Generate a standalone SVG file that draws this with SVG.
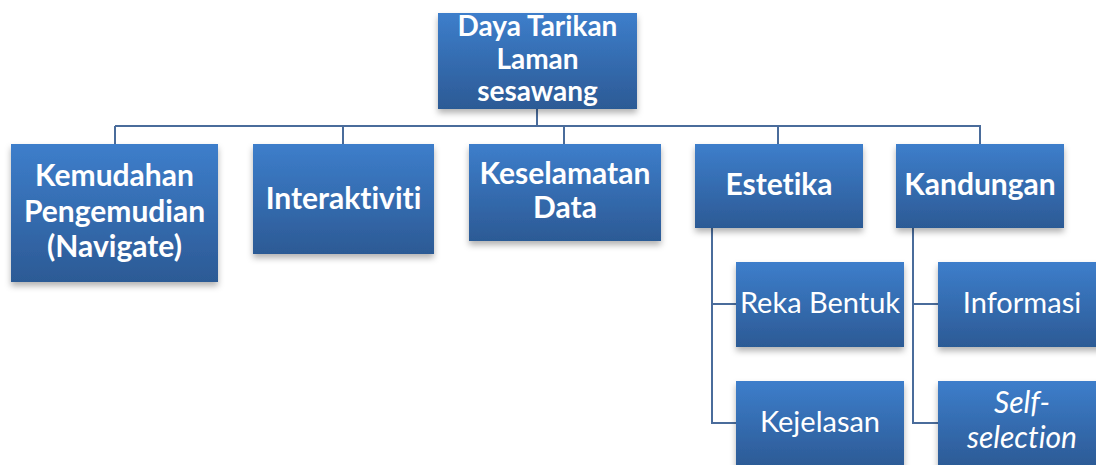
<svg xmlns="http://www.w3.org/2000/svg" width="1096" height="465" viewBox="0 0 1096 465">
<defs>
<linearGradient id="g" x1="0" y1="0" x2="0" y2="1">
<stop offset="0" stop-color="#3d7ecb"/>
<stop offset="1" stop-color="#2c5a95"/>
</linearGradient>
<filter id="sh" x="-10%" y="-10%" width="120%" height="130%">
<feDropShadow dx="0" dy="4" stdDeviation="3" flood-color="#000" flood-opacity="0.3"/>
</filter>
</defs>
<style>
rect.box{fill:url(#g);filter:url(#sh)}
text{font-family:Lato,"Open Sans","Liberation Sans",sans-serif;fill:#fff;text-anchor:middle;font-variant-ligatures:none}
.b{font-weight:bold;font-size:30px}
.t{font-weight:bold;font-size:28px}
.r{font-size:29px}
.i{font-size:30px;font-style:italic}
#connectors path{fill:none;stroke:#4a6c9b;stroke-width:2}
</style>
<rect width="1096" height="465" fill="#fff"/>
<g id="connectors">
<path d="M537,109V126" stroke-width="3"/>
<path d="M115,126H981"/>
<path d="M115,126V144M343,126V144M564,126V144M778,126V144M980,126V144"/>
<path d="M712,228V423H736M712,304H736"/>
<path d="M913,228V423H938M913,304H938"/>
</g>
<g id="n-root"><rect class="box" x="438" y="13" width="199" height="96"/>
<text class="t" x="537.5" y="36">Daya Tarikan</text><text class="t" x="537.5" y="69">Laman</text><text class="t" x="537.5" y="101">sesawang</text></g>
<g id="n-kemudahan"><rect class="box" x="11" y="144" width="207" height="138"/>
<text class="b" x="114.5" y="186">Kemudahan</text><text class="b" x="114.5" y="222">Pengemudian</text><text class="b" x="114.5" y="257">(Navigate)</text></g>
<g id="n-interaktiviti"><rect class="box" x="253" y="144" width="181" height="110"/>
<text class="b" x="343.5" y="209">Interaktiviti</text></g>
<g id="n-keselamatan"><rect class="box" x="469" y="144" width="192" height="97"/>
<text class="b" x="565" y="184">Keselamatan</text><text class="b" x="565" y="218">Data</text></g>
<g id="n-estetika"><rect class="box" x="695" y="144" width="168" height="84"/>
<text class="b" x="779" y="195">Estetika</text></g>
<g id="n-kandungan"><rect class="box" x="896" y="144" width="168" height="84"/>
<text class="b" x="980" y="195">Kandungan</text></g>
<g id="n-reka"><rect class="box" x="736" y="262" width="168" height="85"/>
<text class="r" x="820" y="313">Reka Bentuk</text></g>
<g id="n-kejelasan"><rect class="box" x="736" y="381" width="168" height="86"/>
<text class="r" x="820" y="432">Kejelasan</text></g>
<g id="n-informasi"><rect class="box" x="938" y="262" width="168" height="85"/>
<text class="r" x="1022" y="313">Informasi</text></g>
<g id="n-self"><rect class="box" x="938" y="381" width="168" height="86"/>
<text class="i" x="1022" y="413">Self-</text><text class="i" x="1022" y="448">selection</text></g>
</svg>
